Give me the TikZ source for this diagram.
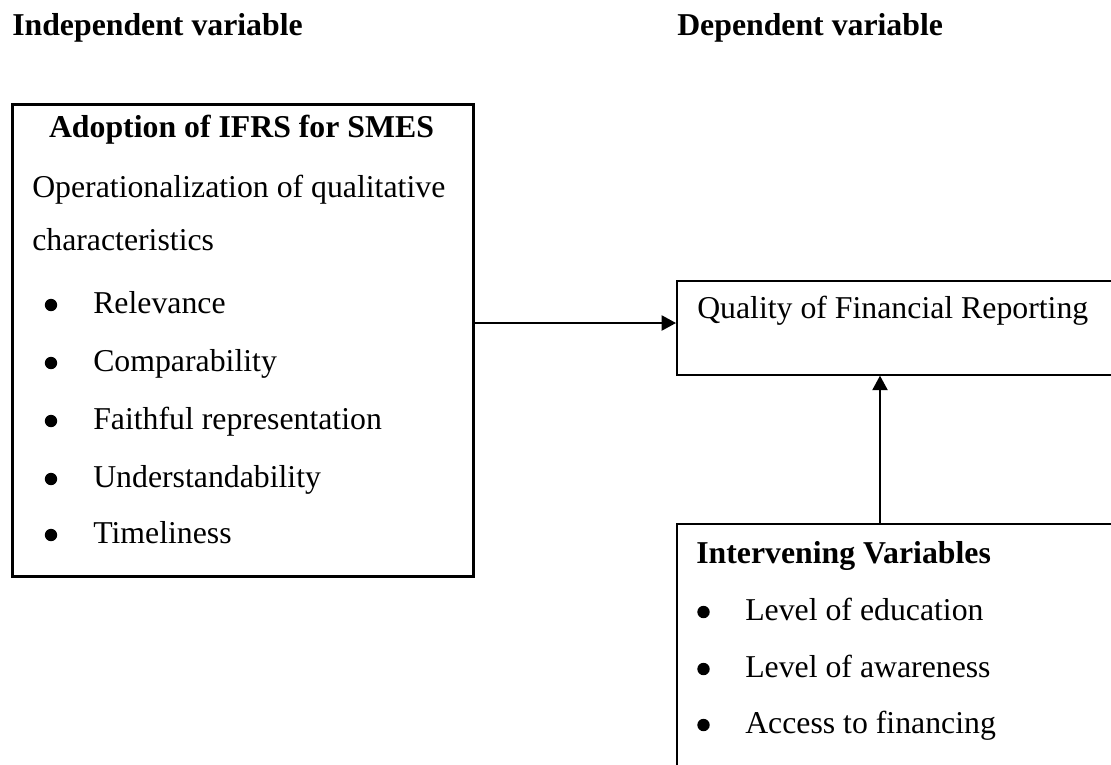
\documentclass[tikz,border=0pt]{standalone}
\usepackage{fontspec}
\setmainfont{Liberation Serif}
\usetikzlibrary{arrows.meta}

\begin{document}
\begin{tikzpicture}[x=0.025cm, y=-0.025cm, font=\fontsize{22.6}{27}\selectfont,
    txt/.style={anchor=base west, inner sep=0pt},
    dot/.style={circle, fill, inner sep=0pt, minimum size=0.31cm},
    varbox/.style={draw, line width=1.2pt, anchor=north west, minimum width=13.1cm},
    conn/.style={line width=1.2pt, -{Triangle[length=0.36cm, width=0.38cm]}}]
    \clip (0,0) rectangle (1111,764);

    % Headings
    \node[txt] (indep) at (12,35) {\textbf{Independent variable}};
    \node[txt] (dep) at (677,35) {\textbf{Dependent variable}};

    % Independent variable box
    \node[draw, line width=1.9pt, anchor=north west, minimum width=11.525cm, minimum height=11.8cm] (adopt) at (11,103) {};
    \node[anchor=base, inner sep=0pt] (adopttitle) at (241.5,137) {\textbf{Adoption of IFRS for SMES}};
    \node[txt] (oper) at (32,197) {Operationalization of qualitative};
    \node[txt] (charac) at (32,250) {characteristics};
    \node[dot] (b1) at (51,305) {};
    \node[txt] (relev) at (93,313) {Relevance};
    \node[dot] (b2) at (51,363) {};
    \node[txt] (compar) at (93,371) {Comparability};
    \node[dot] (b3) at (51,421) {};
    \node[txt] (faith) at (93,429) {Faithful representation};
    \node[dot] (b4) at (51,479) {};
    \node[txt] (under) at (93,487) {Understandability};
    \node[dot] (b5) at (51,535) {};
    \node[txt] (timely) at (93,543) {Timeliness};

    % Dependent variable box
    \node[varbox, minimum height=2.35cm] (qual) at (676,280) {};
    \node[txt] (qualtxt) at (697,318) {Quality of Financial Reporting};

    % Intervening variables box
    \node[varbox, minimum height=7.5cm] (interv) at (676,523) {};
    \node[txt] (intervtitle) at (696,563) {\textbf{Intervening Variables}};
    \node[dot] (c1) at (703.5,612) {};
    \node[txt] (educ) at (745,620) {Level of education};
    \node[dot] (c2) at (703.5,669) {};
    \node[txt] (aware) at (745,677) {Level of awareness};
    \node[dot] (c3) at (703.5,725) {};
    \node[txt] (finance) at (745,733) {Access to financing};

    % Connecting arrows
    \coordinate (arrowlvl) at (0,323);
    \coordinate (linkx) at (880,0);
    \draw[conn] (adopt.east |- arrowlvl) -- (qual.west |- arrowlvl);
    \draw[conn] (interv.north -| linkx) -- (qual.south -| linkx);
\end{tikzpicture}
\end{document}
